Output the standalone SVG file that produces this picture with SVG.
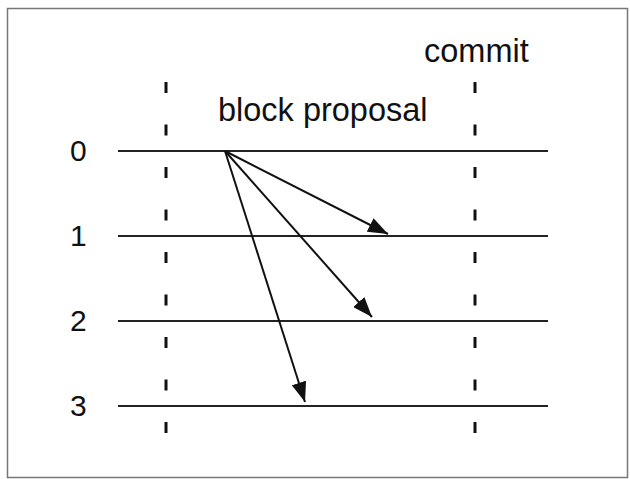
<svg xmlns="http://www.w3.org/2000/svg" width="630" height="479" viewBox="0 0 630 479">
<defs>
<style>
.lbl{font-family:"Liberation Sans",Arial,sans-serif;fill:#111;}
.big{font-size:32.5px;}
.num{font-size:30px;}
.row{stroke:#222;stroke-width:2;fill:none;}
.dash{stroke:#111;stroke-width:3;stroke-dasharray:11 31.5;fill:none;}
.arr{stroke:#111;stroke-width:2;fill:none;marker-end:url(#ah);}
</style>
<marker id="ah" viewBox="0 0 20 15" refX="20" refY="7.5" markerWidth="20" markerHeight="15" markerUnits="userSpaceOnUse" orient="auto">
<path d="M0,0 L20,7.5 L0,15 Z" fill="#111"/>
</marker>
</defs>
<rect x="0" y="0" width="630" height="479" fill="#fff"/>
<rect x="7.5" y="8.5" width="620" height="469" fill="#fff" stroke="#777" stroke-width="1.5"/>
<g id="phase-lines">
<line class="dash" x1="166" y1="82" x2="166" y2="440"/>
<line class="dash" x1="475" y1="82" x2="475" y2="440"/>
</g>
<g id="label-commit"><text class="lbl big" x="424" y="62">commit</text></g>
<g id="label-block-proposal"><text class="lbl big" x="218" y="121">block proposal</text></g>
<g id="node-0"><text class="lbl num" x="70" y="161">0</text><line class="row" x1="118" y1="151" x2="548" y2="151"/></g>
<g id="node-1"><text class="lbl num" x="70" y="246">1</text><line class="row" x1="118" y1="236" x2="548" y2="236"/></g>
<g id="node-2"><text class="lbl num" x="70" y="331">2</text><line class="row" x1="118" y1="321" x2="548" y2="321"/></g>
<g id="node-3"><text class="lbl num" x="70" y="416">3</text><line class="row" x1="118" y1="406" x2="548" y2="406"/></g>
<g id="connectors">
<line class="arr" x1="225" y1="151" x2="388" y2="234"/>
<line class="arr" x1="225" y1="151" x2="372" y2="317"/>
<line class="arr" x1="225" y1="151" x2="305" y2="402"/>
</g>
</svg>
